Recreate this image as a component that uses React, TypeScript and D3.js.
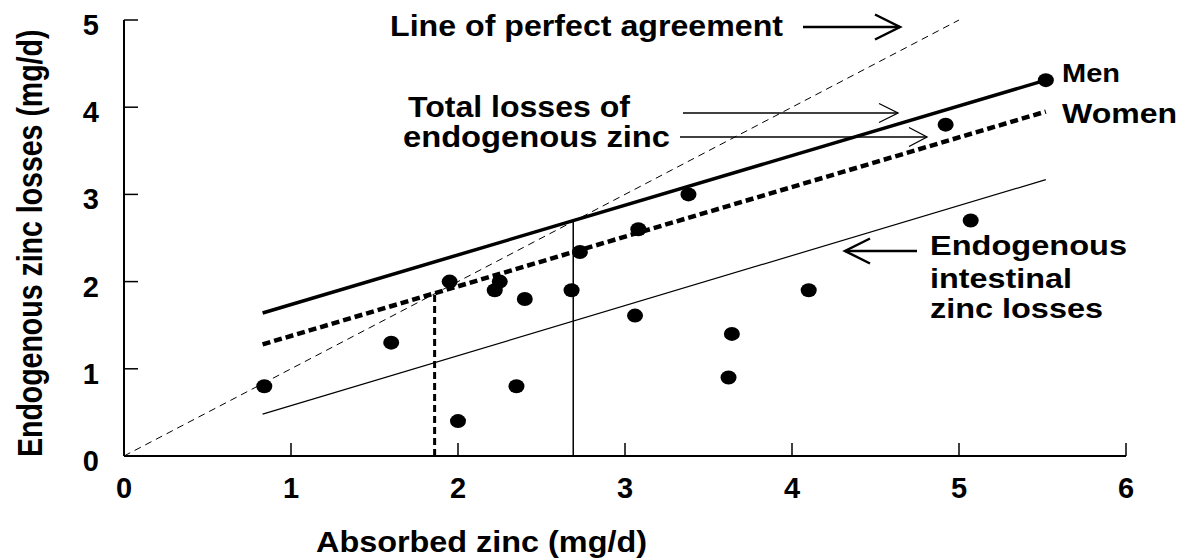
import React from "react";
import * as d3 from "d3";

const xTicks = [0, 1, 2, 3, 4, 5, 6];
const yTicks = [0, 1, 2, 3, 4, 5];

const pointX = [0.84, 1.6, 1.95, 2.25, 2.22, 2.4, 2.68, 2.73, 3.08, 3.06, 3.64, 3.62, 2.35, 2.0, 3.38, 5.07, 4.1, 4.92, 5.52];
const pointY = [0.8, 1.3, 2.0, 2.0, 1.9, 1.8, 1.9, 2.34, 2.6, 1.61, 1.4, 0.9, 0.8, 0.4, 3.0, 2.7, 1.9, 3.8, 4.31];

const agreementLine: [number, number][] = [[0, 0], [5, 5]];
const menLine: [number, number][] = [[0.83, 1.64], [5.52, 4.31]];
const womenLine: [number, number][] = [[0.83, 1.28], [5.52, 3.95]];
const intestinalLine: [number, number][] = [[0.83, 0.48], [5.52, 3.17]];
const menCross = 2.69;
const womenCross = 1.86;

const FONT = "'Liberation Sans', Arial, Helvetica, sans-serif";

export default function App() {
  const W = 1186, H = 560;
  const x = d3.scaleLinear().domain([0, 6]).range([124, 1126]);
  const y = d3.scaleLinear().domain([0, 5]).range([456, 20]);
  const line = d3.line<[number, number]>().x(d => x(d[0])).y(d => y(d[1]));

  const arrowHead = (tx: number, ty: number, dir: number, len: number, half: number) =>
    `M${tx - dir * len},${ty - half} L${tx},${ty} L${tx - dir * len},${ty + half}`;

  const txt = (s: string, px: number, py: number, fs: number, tl: number) => (
    <text x={px} y={py} fontSize={fs} textLength={tl} lengthAdjust="spacingAndGlyphs">{s}</text>
  );

  return (
    <svg width={W} height={H} style={{ position: "absolute", left: 0, top: 0, background: "#fff" }}
      fontFamily={FONT} fontWeight="bold">
      {/* axes */}
      <line x1={x(0)} x2={x(6)} y1={y(0)} y2={y(0)} stroke="#000" strokeWidth={2} />
      <line x1={x(0)} x2={x(0)} y1={y(0)} y2={y(5)} stroke="#000" strokeWidth={2} />
      {xTicks.filter(t => t > 0).map(t => (
        <line key={"xt" + t} x1={x(t)} x2={x(t)} y1={y(0)} y2={y(0) - 13} stroke="#000" strokeWidth={1.5} />
      ))}
      {yTicks.filter(t => t > 0).map(t => (
        <line key={"yt" + t} x1={x(0)} x2={x(0) + 14} y1={y(t)} y2={y(t)} stroke="#000" strokeWidth={1.5} />
      ))}
      {xTicks.map(t => (
        <text key={"xl" + t} x={x(t)} y={498} fontSize={29} textAnchor="middle">{t}</text>
      ))}
      {yTicks.map(t => (
        <text key={"yl" + t} x={99} y={y(t) + 15} fontSize={29} textAnchor="end">{t}</text>
      ))}
      {txt("Absorbed zinc (mg/d)", 316, 552, 30, 331)}
      <text transform="translate(42,457) rotate(-90) scale(1,1.25)" x={0} y={0} fontSize={28.5}>
        Endogenous zinc losses (mg/d)
      </text>

      {/* lines */}
      <path d={line(agreementLine) || ""} fill="none" stroke="#000" strokeWidth={1} strokeDasharray="7,5" />
      <path d={line(intestinalLine) || ""} fill="none" stroke="#000" strokeWidth={1.2} />
      <path d={line(menLine) || ""} fill="none" stroke="#000" strokeWidth={3.5} />
      <path d={line(womenLine) || ""} fill="none" stroke="#000" strokeWidth={4.5} strokeDasharray="8,4" />
      <line x1={x(menCross)} x2={x(menCross)} y1={y(0)} y2={y(menCross)} stroke="#000" strokeWidth={1.5} />
      <line x1={x(womenCross)} x2={x(womenCross)} y1={y(0)} y2={y(womenCross)} stroke="#000" strokeWidth={3} strokeDasharray="7,4" />

      {/* points */}
      {pointX.map((px, i) => (
        <ellipse key={"p" + i} cx={x(px)} cy={y(pointY[i])} rx={8} ry={7} fill="#000" />
      ))}

      {/* annotations */}
      {txt("Line of perfect agreement", 390, 36, 30, 393)}
      <line x1={803} x2={900} y1={27} y2={27} stroke="#000" strokeWidth={2.5} />
      <path d={arrowHead(900, 27, 1, 25, 12.5)} fill="none" stroke="#000" strokeWidth={2.5} />

      {txt("Total losses of", 408, 117, 30, 222)}
      {txt("endogenous zinc", 403, 147, 30, 267)}
      <line x1={683} x2={898} y1={113} y2={113} stroke="#000" strokeWidth={1.3} />
      <path d={arrowHead(898, 113, 1, 19, 9.5)} fill="none" stroke="#000" strokeWidth={1.3} />
      <line x1={680} x2={927} y1={137} y2={137} stroke="#000" strokeWidth={1.3} />
      <path d={arrowHead(927, 137, 1, 18, 9.5)} fill="none" stroke="#000" strokeWidth={1.3} />

      {txt("Men", 1062, 82, 26, 58)}
      {txt("Women", 1062, 123, 27, 115)}

      {txt("Endogenous", 930, 255, 28, 197)}
      {txt("intestinal", 930, 288, 28, 142)}
      {txt("zinc losses", 930, 318, 28, 173)}
      <line x1={917} x2={845} y1={251} y2={251} stroke="#000" strokeWidth={2.5} />
      <path d={arrowHead(845, 251, -1, 25, 12.5)} fill="none" stroke="#000" strokeWidth={2.5} />
    </svg>
  );
}
